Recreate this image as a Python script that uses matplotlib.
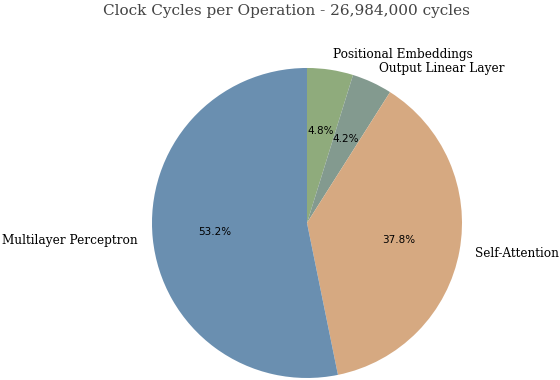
import matplotlib
matplotlib.use("Agg")
import matplotlib.pyplot as plt

operations = ['Positional Embeddings', 'Output Linear Layer', 'Self-Attention', 'Multilayer Perceptron']
shares = [4.8, 4.2, 37.8, 53.2]
colors = ['#8fab7c', '#839a8f', '#d6a981', '#6a8fb0']

fig = plt.figure(figsize=(5.6, 3.8), dpi=100)
ax = fig.add_axes([0.2714, 0.0053, 0.5536, 0.8158])

wedges, texts, autotexts = ax.pie(
    shares, labels=operations, colors=colors, startangle=90, counterclock=False,
    autopct='%1.1f%%', pctdistance=0.6, labeldistance=1.1,
    textprops={'family': 'DejaVu Serif', 'fontsize': 8.7},
)
for t in autotexts:
    t.set_family('DejaVu Sans')
    t.set_fontsize(7.5)
    t.set_color('black')

ax.set_xlim(-1, 1)
ax.set_ylim(-1, 1)
ax.set_aspect('equal')

fig.text(0.512, 0.972, 'Clock Cycles per Operation - 26,984,000 cycles',
         ha='center', va='center', family='DejaVu Serif', fontsize=11, color='#444444')

fig.savefig('out.png', dpi=100)
